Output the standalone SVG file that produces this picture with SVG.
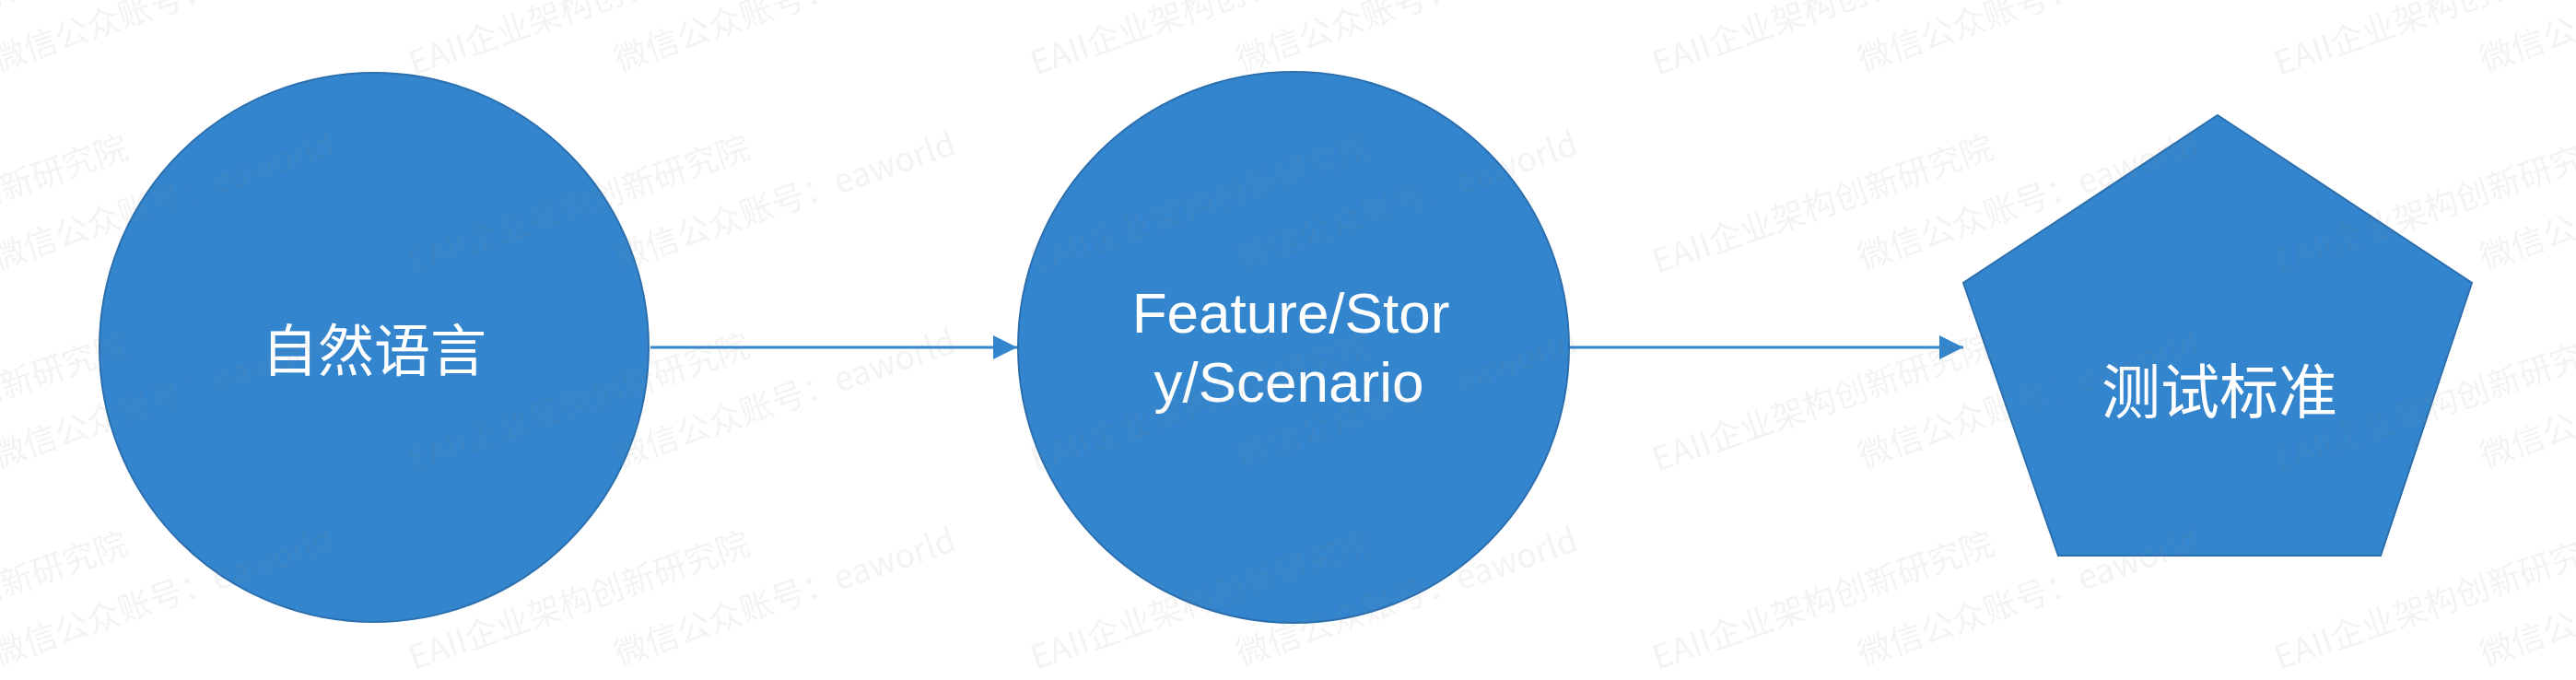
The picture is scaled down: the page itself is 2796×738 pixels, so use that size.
<svg xmlns="http://www.w3.org/2000/svg" width="2796" height="738" viewBox="0 0 2796 738">
<style>
.shape{fill:#3386CE;stroke:#2C6FAE;stroke-width:2}
.lbl{fill:#FFFFFF;text-anchor:middle}
.cjk{font-family:"Noto Sans CJK SC","Noto Sans",sans-serif}
.lat{font-family:"Liberation Sans",Arial,sans-serif}
.edge{stroke:#3386CE;stroke-width:3;fill:none}
.wm{fill:#808080;fill-opacity:0.11;font-family:"Noto Sans CJK SC","Noto Sans",sans-serif;font-size:36px}
</style>
<defs>
<marker id="arrow" markerUnits="userSpaceOnUse" markerWidth="27" markerHeight="28" refX="26" refY="14" orient="auto">
<path d="M0,1 L26,14 L0,27 Z" fill="#3386CE"/>
</marker>
<g id="wmtile">
<text class="wm" x="0" y="0" transform="rotate(-19)">EAII企业架构创新研究院</text>
<text class="wm" x="0" y="0" transform="translate(223,-4) rotate(-19)">微信公众账号：eaworld</text>
</g>
</defs>
<rect width="2796" height="738" fill="#FFFFFF"/>
<g id="connectors">
<line class="edge" x1="706" y1="377" x2="1104" y2="377" marker-end="url(#arrow)"/>
<line class="edge" x1="1704" y1="377" x2="2131" y2="377" marker-end="url(#arrow)"/>
</g>
<g id="node-natural-language">
<circle class="shape" cx="406" cy="377" r="298"/>
<text class="lbl cjk" x="406" y="376" font-size="61" dominant-baseline="central">自然语言</text>
</g>
<g id="node-feature-story">
<circle class="shape" cx="1404" cy="377" r="299"/>
<text class="lbl lat" x="1401" y="361" font-size="62">Feature/Stor</text>
<text class="lbl lat" x="1399" y="436" font-size="62">y/Scenario</text>
</g>
<g id="node-test-criteria">
<polygon class="shape" points="2407,125 2683,307 2584,603 2234,603 2131,307"/>
<text class="lbl cjk" x="2409" y="420" font-size="64" dominant-baseline="central">测试标准</text>
</g>
<g id="watermark">
<use href="#wmtile" x="-226" y="82"/><use href="#wmtile" x="449" y="82"/><use href="#wmtile" x="1124" y="82"/><use href="#wmtile" x="1799" y="82"/><use href="#wmtile" x="2474" y="82"/>
<use href="#wmtile" x="-226" y="297"/><use href="#wmtile" x="449" y="297"/><use href="#wmtile" x="1124" y="297"/><use href="#wmtile" x="1799" y="297"/><use href="#wmtile" x="2474" y="297"/>
<use href="#wmtile" x="-226" y="512"/><use href="#wmtile" x="449" y="512"/><use href="#wmtile" x="1124" y="512"/><use href="#wmtile" x="1799" y="512"/><use href="#wmtile" x="2474" y="512"/>
<use href="#wmtile" x="-226" y="727"/><use href="#wmtile" x="449" y="727"/><use href="#wmtile" x="1124" y="727"/><use href="#wmtile" x="1799" y="727"/><use href="#wmtile" x="2474" y="727"/>
</g>
</svg>
